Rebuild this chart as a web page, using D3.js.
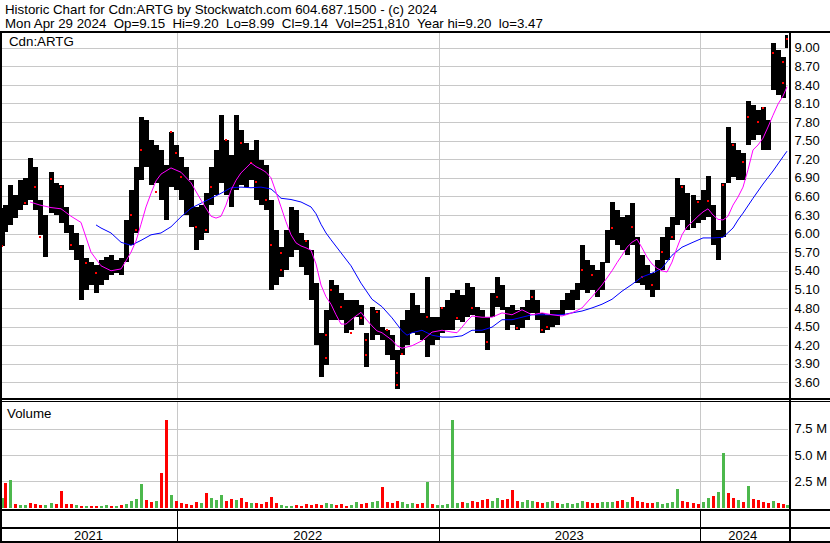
<!DOCTYPE html>
<html><head><meta charset="utf-8">
<script src="https://cdn.jsdelivr.net/npm/d3@7"></script>
<style>
html,body{margin:0;padding:0;background:#fff;}
svg{display:block;}
</style></head><body>
<svg id="c" width="830" height="543"></svg>
<script>
// ---------------- DATA ----------------
const header1 = "Historic Chart for Cdn:ARTG by Stockwatch.com 604.687.1500 - (c) 2024";
const header2 = "Mon Apr 29 2024  Op=9.15  Hi=9.20  Lo=8.99  Cl=9.14  Vol=251,810  Year hi=9.20  lo=3.47";
const symbolLabel = "Cdn:ARTG";
const volumeLabel = "Volume";
const startDate = new Date(2021, 3, 29);
const endDate = new Date(2024, 3, 29);
const firstMonday = new Date(2021, 3, 26);

// weekly high / low (one entry per week, Apr 2021 .. Apr 2024)
const weekHigh = [6.41,6.46,6.78,6.62,6.86,6.90,7.22,7.08,6.54,6.30,
 6.99,6.82,6.78,6.43,6.14,6.01,5.82,5.61,5.54,5.49,
 5.57,5.62,5.65,5.57,5.61,6.22,6.70,7.08,7.88,7.83,
 7.51,7.43,7.35,7.11,7.64,7.43,7.24,7.08,6.86,6.43,
 6.46,6.66,7.08,7.35,7.91,7.51,7.27,7.91,7.67,7.46,
 7.35,7.51,7.19,7.11,6.54,6.06,5.78,6.06,6.43,6.38,
 6.01,5.90,5.73,5.20,4.40,4.77,5.25,5.17,5.04,4.93,
 4.93,4.93,4.85,4.40,4.82,4.77,4.49,4.44,4.36,4.12,
 4.61,4.77,5.04,4.85,4.72,5.30,4.65,4.65,4.82,4.93,
 5.04,5.09,5.01,5.20,5.14,4.82,4.77,4.65,5.04,5.30,
 5.17,4.82,4.85,4.77,4.82,4.93,5.09,4.93,4.72,4.69,
 4.77,4.77,4.93,5.04,5.09,5.20,5.82,5.57,5.49,5.41,
 5.54,6.06,6.51,6.38,6.27,6.30,6.49,5.94,5.65,5.49,
 5.36,5.57,5.94,6.11,6.27,6.90,6.78,6.66,6.62,6.54,
 6.70,6.93,6.46,6.06,6.82,7.72,7.46,7.35,7.30,8.14,
 8.08,7.99,8.04,7.83,9.08,8.96,8.85,9.20];
const weekLow = [5.80,6.03,6.14,6.25,6.38,6.46,6.54,6.38,5.98,5.62,
 6.33,6.30,6.17,6.01,5.73,5.57,4.93,5.09,5.17,5.04,
 5.17,5.25,5.33,5.36,5.33,5.54,5.82,6.01,6.86,7.08,
 6.78,6.82,6.54,6.22,6.75,6.70,6.54,6.30,6.11,5.73,
 5.90,6.01,6.46,6.62,6.82,6.62,6.43,6.70,6.78,6.75,
 6.86,6.54,6.46,6.38,5.09,5.17,5.30,5.41,5.62,5.73,
 5.46,5.33,4.93,4.20,3.69,3.88,4.61,4.61,4.61,4.40,
 4.44,4.65,4.52,3.85,4.28,4.36,4.28,4.04,3.96,3.49,
 4.04,4.20,4.40,4.36,4.28,4.01,4.20,4.28,4.40,4.44,
 4.44,4.61,4.57,4.65,4.69,4.40,4.40,4.12,4.65,4.82,
 4.77,4.44,4.52,4.44,4.48,4.61,4.72,4.61,4.40,4.44,
 4.49,4.52,4.69,4.77,4.77,4.93,5.09,5.04,5.09,4.98,
 5.09,5.53,5.90,5.82,5.73,5.65,5.82,5.20,5.17,5.09,
 4.98,5.09,5.41,5.57,5.90,6.14,6.22,6.06,6.09,6.17,
 6.22,6.27,5.82,5.57,5.94,6.82,6.91,6.86,6.86,7.43,
 7.51,7.59,7.35,7.35,8.32,8.24,8.19,8.99];
// weekly volume (millions) and up/down colour code
const weekVolM = [0.9,2.36,2.6,0.3,0.25,0.2,0.4,0.3,0.2,0.25,
 0.45,0.3,1.57,0.35,0.3,0.2,0.1,0.15,0.1,0.1,
 0.15,0.2,0.1,0.15,0.2,0.35,0.6,0.8,2.2,0.7,
 0.5,0.6,3.3,8.35,1.2,0.6,0.4,0.3,0.25,0.5,
 0.45,1.4,0.9,0.7,1.2,0.6,0.8,0.7,0.9,0.5,
 0.4,0.45,0.3,0.5,1.0,0.4,0.2,0.15,0.1,0.2,
 0.15,0.35,0.25,0.3,0.2,0.4,0.35,0.25,0.3,0.15,
 0.2,0.5,0.3,0.4,0.5,0.6,1.9,0.5,0.4,0.6,
 0.5,0.35,0.45,0.3,0.4,2.4,0.3,0.2,0.25,0.35,
 8.35,0.4,0.5,0.45,0.6,0.5,0.7,0.8,0.6,0.9,
 0.7,0.8,1.65,0.6,0.5,0.7,0.6,0.5,0.45,0.5,
 0.6,0.4,0.35,0.45,0.3,0.4,0.6,0.5,0.45,0.4,
 0.5,0.55,0.5,0.6,0.7,0.55,1.0,0.6,0.5,0.45,
 0.4,0.5,0.35,0.4,0.55,1.8,0.6,0.5,0.4,0.3,
 0.5,0.9,1.1,1.5,5.2,1.4,0.9,0.7,0.5,2.05,
 0.8,0.7,0.5,0.4,0.6,0.4,0.35,0.25];
const weekVolDir = "grgrggrrrg" + "grrrrgrgrr" + "ggrgrggggr" + "rgrrgrrrrr" + "grgggrrgrr" +
 "grrrrrgggr" + "rrrrrggrrr" + "ggrrggrrrr" + "gggrrgrggg" + "ggrgrrrrgg" +
 "rrrrgggrrg" + "grgggggrrr" + "gggrrgrrrr" + "rgggggrrrr" + "ggrggrrgrg" + "rrrrgrrg";

// short moving average (magenta)
const pinkWeeks = [6,8,10,12,14,16,18,20,22,24,25,26,27,28,29,30,31,32,34,36,38,40,42,43,44,45,46,47,48,49,50,51,52,53,54,55,56,57,58,59,60,61,62,63,64,65,66,67,68,69,70,72,73,74,75,76,78,79,80,82,84,86,88,90,91,92,93,94,96,98,100,102,104,106,108,110,112,114,116,118,120,122,123,124,125,126,127,128,129,130,131,132,133,134,135,136,137,138,139,140,141,142,143,144,145,146,147,148,149,150,151,152,153,154,155,156,157];
const pinkValues = [6.51,6.46,6.42,6.40,6.28,6.18,5.70,5.48,5.40,5.43,5.56,5.70,5.88,6.15,6.43,6.65,6.85,6.96,7.06,6.99,6.82,6.54,6.28,6.25,6.28,6.46,6.70,6.86,6.98,7.06,7.14,7.08,7.04,6.99,6.90,6.67,6.43,6.19,5.98,5.85,5.80,5.77,5.73,5.51,5.17,4.98,4.86,4.69,4.54,4.54,4.61,4.73,4.62,4.51,4.43,4.40,4.28,4.19,4.15,4.19,4.27,4.41,4.44,4.41,4.40,4.49,4.59,4.67,4.65,4.65,4.72,4.69,4.77,4.69,4.72,4.69,4.67,4.72,4.80,4.98,5.17,5.40,5.53,5.65,5.78,5.86,5.91,5.77,5.62,5.51,5.44,5.40,5.38,5.54,5.77,5.98,6.11,6.20,6.28,6.35,6.40,6.30,6.23,6.22,6.28,6.46,6.59,6.75,7.03,7.35,7.43,7.54,7.72,7.91,8.09,8.22,8.37];
// long moving average (blue)
const blueWeeks = [19,20,22,24,26,28,30,32,34,36,38,40,42,44,46,48,50,52,54,55,56,58,60,62,63,64,65,66,68,70,72,74,76,78,80,81,82,84,86,88,90,92,94,96,98,100,102,104,106,108,110,112,114,116,118,120,122,124,126,128,130,132,134,136,138,140,142,144,146,147,148,150,152,154,156,157];
const blueValues = [6.14,6.09,6.01,5.86,5.81,5.89,5.98,6.01,6.11,6.27,6.41,6.49,6.57,6.65,6.74,6.75,6.74,6.75,6.72,6.65,6.57,6.55,6.51,6.43,6.32,6.15,6.01,5.90,5.69,5.48,5.20,4.94,4.82,4.64,4.43,4.36,4.40,4.44,4.36,4.33,4.33,4.35,4.44,4.44,4.49,4.61,4.61,4.65,4.69,4.69,4.69,4.69,4.72,4.75,4.80,4.86,4.94,5.07,5.18,5.30,5.36,5.44,5.65,5.78,5.86,5.93,5.93,5.94,6.09,6.22,6.33,6.57,6.80,7.01,7.24,7.33];
// red close markers
const dotWeeks = [0,5,7,8,10,12,14,17,19,26,27,28,31,34,35,36,39,41,42,45,48,50,51,53,54,56,56,61,65,65,66,68,70,72,73,73,75,77,79,79,80,85,88,91,94,97,99,103,106,108,109,116,118,122,126,128,130,132,134,136,139,141,144,146,148,149,151,152,154,156,156,157];
const dotPrices = [5.80,6.49,6.75,5.94,6.88,6.75,5.82,5.53,5.36,6.30,6.06,7.35,6.67,7.64,7.30,6.91,6.11,6.06,6.75,7.51,7.46,7.14,6.83,6.54,5.82,5.69,5.41,5.88,3.99,4.36,5.09,4.82,4.40,4.64,4.28,4.04,4.74,4.44,3.75,3.56,4.06,4.65,4.80,4.63,4.80,4.25,4.98,4.48,4.98,4.44,4.49,5.41,5.33,6.09,6.11,5.30,5.17,5.70,5.94,6.75,6.51,6.52,6.78,7.43,7.16,7.88,7.80,8.02,8.91,8.43,8.77,9.14];

const priceTicks = ["3.60","3.90","4.20","4.50","4.80","5.10","5.40","5.70","6.00","6.30","6.60","6.90","7.20","7.50","7.80","8.10","8.40","8.70","9.00"];
const volumeTicks = [2.5, 5.0, 7.5];
const volumeTickLabels = ["2.5 M", "5.0 M", "7.5 M"];

// ---------------- LAYOUT ----------------
const FONT = "'Liberation Sans', Arial, sans-serif";
const plotL = 2, plotR = 788;
const priceTop = 33, priceBot = 398;
const volTop = 402, volBot = 508.5;

const svg = d3.select("#c");
svg.append("rect").attr("width", 830).attr("height", 543).attr("fill", "#fff");

const x = d3.scaleTime().domain([startDate, endDate]).range([0, 785.3]);
const weeks = d3.timeMonday.range(firstMonday, d3.timeDay.offset(endDate, 1));
const wx = i => Math.round(Math.max(2, Math.min(786.5, x(d3.timeHour.offset(weeks[i], 84)))));

const yP = d3.scaleLinear().domain([3.60, 9.00]).range([382.3, 47.7]);
const yV = d3.scaleLinear().domain([0, 7.5]).range([507.5, 428.5]);

const grid = "#c8c8c8";

// header
svg.append("text").attr("x", 5).attr("y", 14).text(header1)
  .attr("font-family", FONT).attr("font-size", 13.3).attr("fill", "#000");
svg.append("text").attr("x", 5).attr("y", 27.5).text(header2).style("white-space", "pre")
  .attr("font-family", FONT).attr("font-size", 13.3).attr("fill", "#000");

// price grid
const gGrid = svg.append("g").attr("transform", `translate(${plotR},0)`)
  .call(d3.axisLeft(yP).tickValues(priceTicks.map(Number)).tickSize(plotR - plotL).tickFormat(""));
gGrid.select(".domain").remove();
gGrid.selectAll("line").attr("stroke", grid).attr("shape-rendering", "crispEdges");

// volume grid
const gVGrid = svg.append("g").attr("transform", `translate(${plotR},0)`)
  .call(d3.axisLeft(yV).tickValues(volumeTicks).tickSize(plotR - plotL).tickFormat(""));
gVGrid.select(".domain").remove();
gVGrid.selectAll("line").attr("stroke", grid).attr("shape-rendering", "crispEdges");

// year boundaries
const yearStarts = d3.timeYear.range(d3.timeYear.ceil(startDate), endDate);
yearStarts.forEach(d => {
  const xx = Math.round(x(d)) + 0.5;
  svg.append("line").attr("x1", xx).attr("x2", xx).attr("y1", priceTop).attr("y2", priceBot)
    .attr("stroke", grid);
  svg.append("line").attr("x1", xx).attr("x2", xx).attr("y1", volTop).attr("y2", volBot)
    .attr("stroke", grid);
  svg.append("line").attr("x1", xx).attr("x2", xx).attr("y1", 510).attr("y2", 542)
    .attr("stroke", "#000");
});

// clip
svg.append("clipPath").attr("id", "pc").append("rect")
  .attr("x", plotL).attr("y", priceTop).attr("width", plotR - plotL).attr("height", priceBot - priceTop);
const gP = svg.append("g").attr("clip-path", "url(#pc)");

// price bars
gP.append("g").selectAll("rect").data(d3.range(weekHigh.length)).join("rect")
  .attr("x", i => wx(i) - 2).attr("width", 5)
  .attr("y", i => Math.round(yP(weekHigh[i])))
  .attr("height", i => Math.max(1, Math.round(yP(weekLow[i])) - Math.round(yP(weekHigh[i]))))
  .attr("fill", "#000").attr("shape-rendering", "crispEdges");

// red markers
gP.append("g").selectAll("rect").data(d3.range(dotWeeks.length)).join("rect")
  .attr("x", k => wx(dotWeeks[k]) - 1).attr("width", 2)
  .attr("y", k => Math.round(yP(dotPrices[k])) - 1).attr("height", 2)
  .attr("fill", "#ff0000").attr("shape-rendering", "crispEdges");

// moving averages
const lineOf = (ws, vs) => d3.line().x((d, k) => wx(ws[k])).y((d, k) => yP(vs[k]))(vs);
gP.append("path").attr("d", lineOf(blueWeeks, blueValues)).attr("fill", "none")
  .attr("stroke", "#0000ff").attr("stroke-width", 1);
gP.append("path").attr("d", lineOf(pinkWeeks, pinkValues)).attr("fill", "none")
  .attr("stroke", "#ff00ff").attr("stroke-width", 1);

// volume bars
svg.append("g").selectAll("rect").data(d3.range(weekVolM.length)).join("rect")
  .attr("x", i => wx(i) - 1.5).attr("width", 3)
  .attr("y", i => Math.round(yV(weekVolM[i])))
  .attr("height", i => Math.max(1, Math.round(yV(0)) - Math.round(yV(weekVolM[i]))))
  .attr("fill", i => weekVolDir[i] === "g" ? "#4cb84c" : "#ff0000")
  .attr("shape-rendering", "crispEdges");

// labels inside panels
svg.append("text").attr("x", 9).attr("y", 46).text(symbolLabel)
  .attr("font-family", FONT).attr("font-size", 13.3).attr("fill", "#000");
svg.append("text").attr("x", 7).attr("y", 418).text(volumeLabel)
  .attr("font-family", FONT).attr("font-size", 13.3).attr("fill", "#000");

// price axis labels
const gPA = svg.append("g").attr("transform", `translate(791,0)`)
  .call(d3.axisRight(yP).tickValues(priceTicks.map(Number)).tickSize(0).tickPadding(3.5)
    .tickFormat((d, i) => priceTicks[i]));
gPA.select(".domain").remove();
gPA.selectAll("text").attr("font-family", FONT).attr("font-size", 13).attr("fill", "#000");

// volume axis labels
const gVA = svg.append("g").attr("transform", `translate(791,0)`)
  .call(d3.axisRight(yV).tickValues(volumeTicks).tickSize(0).tickPadding(3.5)
    .tickFormat((d, i) => volumeTickLabels[i]));
gVA.select(".domain").remove();
gVA.selectAll("text").attr("font-family", FONT).attr("font-size", 13).attr("fill", "#000");

// frame lines
const blk = (xx, yy, w, h) => svg.append("rect").attr("x", xx).attr("y", yy).attr("width", w).attr("height", h)
  .attr("fill", "#000").attr("shape-rendering", "crispEdges");
blk(0, 31, 830, 2);          // top rule
blk(0, 31, 2, 512);          // left border
blk(788.5, 31, 2, 512);      // axis divider
blk(0, 398, 830, 2);         // panel separator (thick)
blk(0, 401, 830, 1);         // panel separator (thin)
blk(0, 508.5, 830, 2);       // volume baseline
blk(0, 527, 830, 2);         // year row top
blk(0, 541, 830, 2);         // bottom border

// year labels
const bounds = [x.range()[0], ...yearStarts.map(d => x(d)), x.range()[1]];
const years = [startDate, ...yearStarts].map(d => d3.timeFormat("%Y")(d));
svg.append("g").selectAll("text").data(years).join("text")
  .attr("x", (d, i) => (bounds[i] + bounds[i + 1]) / 2).attr("y", 539.5)
  .attr("text-anchor", "middle").text(d => d)
  .attr("font-family", FONT).attr("font-size", 13).attr("fill", "#000");
</script>
</body></html>
